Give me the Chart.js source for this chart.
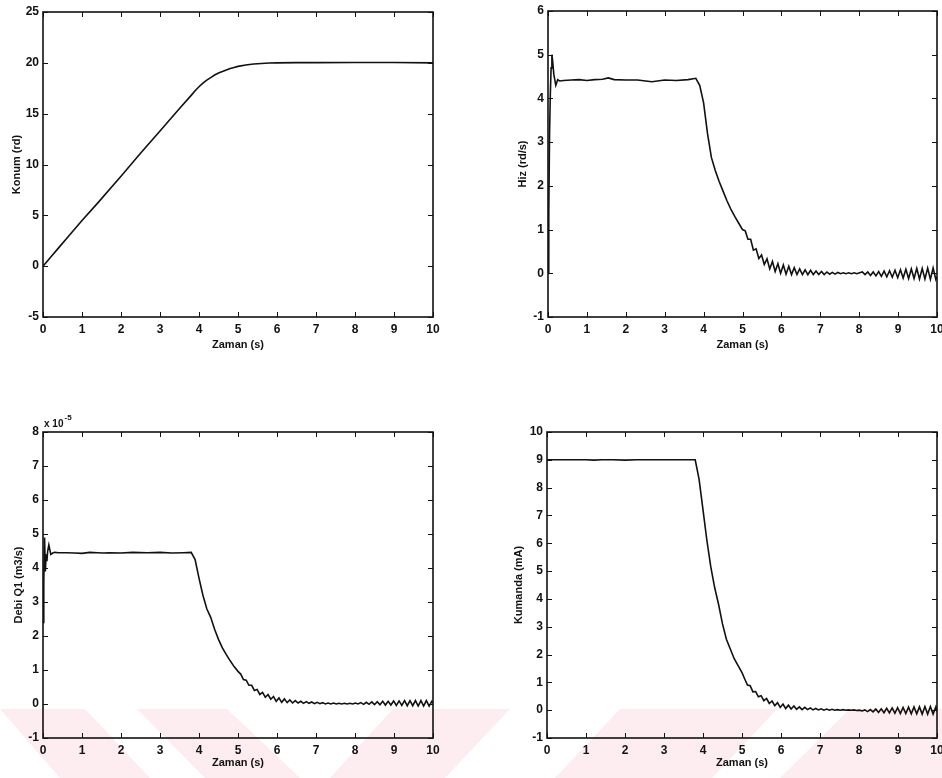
<!DOCTYPE html>
<html>
<head>
<meta charset="utf-8">
<script src="https://cdn.jsdelivr.net/npm/chart.js@4.4.1/dist/chart.umd.min.js"></script>
<style>
  html, body { margin: 0; padding: 0; background: #fff; }
  body { width: 942px; height: 778px; position: relative; overflow: hidden; }
  #filigran { position: absolute; left: 0; top: 0; z-index: 0; }
  .kutu { position: absolute; width: 471px; height: 389px; z-index: 1; }
</style>
</head>
<body>
<svg id="filigran" width="942" height="778">
  <g fill="#fdedf0">
    <polygon points="0,709 85,709 150,778 60,778"/>
    <polygon points="137,709 227,709 300,778 205,778"/>
    <polygon points="393,709 510,709 445,778 330,778"/>
    <polygon points="620,709 777,709 712,778 555,778"/>
    <polygon points="850,709 942,709 942,778 780,778"/>
  </g>
</svg>
<div class="kutu" style="left:0;top:0"><canvas id="konumGrafik" width="471" height="389"></canvas></div>
<div class="kutu" style="left:471px;top:0"><canvas id="hizGrafik" width="471" height="389"></canvas></div>
<div class="kutu" style="left:0;top:389px"><canvas id="debiGrafik" width="471" height="389"></canvas></div>
<div class="kutu" style="left:471px;top:389px"><canvas id="kumandaGrafik" width="471" height="389"></canvas></div>
<script>
// konum (rd), kendi zaman ekseniyle
const konumZaman = [0, 0.2, 0.4, 0.6, 1.0, 1.4, 2.0, 2.5, 3.0, 3.5, 3.8, 3.9, 4.0, 4.1, 4.2, 4.3, 4.4,
  4.5, 4.6, 4.7, 4.8, 4.9, 5.0, 5.2, 5.4, 5.6, 5.8, 6.0, 6.5, 7, 8, 9, 10];
const konum = [0, 0.9, 1.8, 2.7, 4.5, 6.2, 8.85, 11.1, 13.3, 15.5, 16.8, 17.25, 17.65, 18.0, 18.3, 18.55, 18.8,
  19.0, 19.15, 19.3, 19.45, 19.55, 19.65, 19.78, 19.88, 19.94, 19.98, 20.0, 20.02, 20.02, 20.03, 20.03, 20.0];

// hiz, debi ve kumanda icin ortak zaman (s)
const zaman = [
  0, 0.02, 0.04, 0.06, 0.08, 0.1, 0.12, 0.15, 0.2, 0.25, 0.3, 0.4,
  0.6, 0.8, 1.0, 1.2, 1.4, 1.55, 1.7, 2.0, 2.3, 2.67, 3.0, 3.3, 3.6, 3.8,
  3.9, 4.0, 4.1, 4.2, 4.3, 4.4, 4.5, 4.6, 4.7, 4.8, 4.9, 5.0,
  5.07, 5.14, 5.21, 5.28, 5.35, 5.42, 5.49, 5.56, 5.63, 5.70, 5.77, 5.84, 5.91, 5.98,
  6.05, 6.12, 6.19, 6.26, 6.33, 6.40, 6.47, 6.54, 6.61, 6.68, 6.75, 6.82, 6.89, 6.96,
  7.03, 7.10, 7.17, 7.24, 7.31, 7.38, 7.45, 7.52, 7.59, 7.66, 7.73, 7.80, 7.87, 7.94,
  8.01, 8.08, 8.15, 8.22, 8.29, 8.36, 8.43, 8.50, 8.57, 8.64, 8.71, 8.78, 8.85, 8.92,
  8.99, 9.06, 9.13, 9.20, 9.27, 9.34, 9.41, 9.48, 9.55, 9.62, 9.69, 9.76, 9.83, 9.90,
  9.97, 10.0
];

// hiz (rd/s)
const hiz = [
  0, 1.4, 3.2, 4.1, 4.7, 5.0, 4.85, 4.55, 4.3, 4.43, 4.4, 4.41,
  4.42, 4.43, 4.41, 4.43, 4.44, 4.47, 4.43, 4.42, 4.42, 4.38, 4.42, 4.41, 4.43, 4.46,
  4.3, 3.9, 3.2, 2.65, 2.35, 2.1, 1.88, 1.66, 1.47, 1.3, 1.15, 1.0,
  0.97, 0.78, 0.78, 0.53, 0.56, 0.34, 0.42, 0.2, 0.33, 0.1, 0.27, 0.04, 0.22, 0.0,
  0.19, -0.02, 0.16, -0.03, 0.13, -0.03, 0.1, -0.03, 0.08, -0.03, 0.07, -0.03, 0.05, -0.03,
  0.04, -0.03, 0.03, -0.02, 0.02, -0.02, 0.02, -0.01, 0.01, -0.01, 0.01, -0.01, 0.01, -0.01,
  0.01, 0.03, -0.03, 0.03, -0.05, 0.03, -0.06, 0.04, -0.07, 0.05, -0.08, 0.06, -0.09, 0.07,
  -0.1, 0.08, -0.11, 0.09, -0.12, 0.1, -0.12, 0.11, -0.13, 0.11, -0.13, 0.12, -0.14, 0.12,
  -0.14, -0.08
];

// debi Q1 (x 1e-5 m3/s)
const debiQ1 = [
  2.4, 3.6, 4.9, 3.9, 4.4, 4.2, 4.5, 4.68, 4.4, 4.44, 4.46, 4.45,
  4.45, 4.44, 4.43, 4.46, 4.45, 4.44, 4.45, 4.44, 4.46, 4.45, 4.46, 4.44, 4.45, 4.46,
  4.25, 3.7, 3.2, 2.8, 2.55, 2.2, 1.9, 1.65, 1.45, 1.27, 1.1, 0.96,
  0.88, 0.72, 0.7, 0.55, 0.55, 0.4, 0.43, 0.28, 0.34, 0.2, 0.28, 0.14, 0.22, 0.08,
  0.18, 0.05, 0.15, 0.04, 0.12, 0.03, 0.1, 0.03, 0.08, 0.02, 0.07, 0.02, 0.06, 0.01,
  0.05, 0.01, 0.04, 0.0, 0.03, 0.0, 0.03, 0.0, 0.02, 0.0, 0.02, 0.0, 0.02, 0.0,
  0.03, 0.0, 0.04, -0.01, 0.05, -0.01, 0.06, -0.02, 0.07, -0.02, 0.08, -0.03, 0.08, -0.03,
  0.09, -0.04, 0.09, -0.04, 0.1, -0.05, 0.1, -0.05, 0.1, -0.06, 0.1, -0.06, 0.1, -0.06,
  0.08, 0.02
];

// kumanda (mA)
const kumanda = [
  9.0, 9.0, 9.0, 9.0, 9.0, 9.0, 9.0, 9.0, 9.0, 9.0, 9.0, 9.0,
  9.0, 9.0, 9.0, 8.99, 9.0, 9.0, 9.0, 8.99, 9.0, 9.0, 9.0, 9.0, 9.0, 9.0,
  8.3, 7.2, 6.1, 5.15, 4.4, 3.8, 3.1, 2.55, 2.2, 1.85, 1.6, 1.35,
  1.12, 0.9, 0.88, 0.66, 0.67, 0.48, 0.52, 0.34, 0.42, 0.24, 0.33, 0.16, 0.27, 0.1,
  0.22, 0.06, 0.18, 0.04, 0.15, 0.03, 0.12, 0.02, 0.1, 0.02, 0.08, 0.01, 0.06, 0.01,
  0.05, 0.0, 0.04, 0.0, 0.03, 0.0, 0.02, 0.0, 0.02, 0.0, 0.01, 0.0, 0.01, -0.01,
  0.0, -0.03, 0.01, -0.05, 0.02, -0.06, 0.04, -0.08, 0.05, -0.09, 0.07, -0.1, 0.08, -0.11,
  0.09, -0.12, 0.1, -0.12, 0.11, -0.13, 0.12, -0.13, 0.12, -0.14, 0.13, -0.14, 0.13, -0.14,
  0.12, -0.05
];

// eksen araliklari [min, max, adim]
const zamanEkseni = [0, 10, 1];
const konumEkseni = [-5, 25, 5];
const hizEkseni = [-1, 6, 1];
const debiEkseni = [-1, 8, 1];
const kumandaEkseni = [-1, 10, 1];

var yazi = '"Liberation Sans", Arial, Helvetica, sans-serif';
var renk = '#111';

// matlab tarzi kutu ve iceri bakan tik cizgileri
var matlabEksen = {
  id: 'matlabEksen',
  afterDatasetsDraw: function (chart, args, opts) {
    var ctx = chart.ctx, a = chart.chartArea;
    var x = chart.scales.x, y = chart.scales.y;
    var L = 5;
    ctx.save();
    ctx.strokeStyle = renk;
    ctx.lineWidth = 1;
    ctx.beginPath();
    x.ticks.forEach(function (t) {
      var px = Math.round(x.getPixelForValue(t.value)) + 0.5;
      ctx.moveTo(px, a.bottom); ctx.lineTo(px, a.bottom - L);
      ctx.moveTo(px, a.top); ctx.lineTo(px, a.top + L);
    });
    y.ticks.forEach(function (t) {
      var py = Math.round(y.getPixelForValue(t.value)) + 0.5;
      ctx.moveTo(a.left, py); ctx.lineTo(a.left + L, py);
      ctx.moveTo(a.right, py); ctx.lineTo(a.right - L, py);
    });
    ctx.stroke();
    ctx.lineWidth = 1.6;
    ctx.strokeRect(a.left, a.top, a.right - a.left, a.bottom - a.top);
    if (opts.us) {
      ctx.fillStyle = renk;
      ctx.textBaseline = 'alphabetic';
      ctx.textAlign = 'left';
      ctx.font = 'bold 10px ' + yazi;
      ctx.fillText('x 10', a.left + 1, a.top - 5);
      var w = ctx.measureText('x 10').width;
      ctx.font = 'bold 8px ' + yazi;
      ctx.fillText(opts.us, a.left + 1 + w + 1, a.top - 12);
    }
    ctx.restore();
  }
};

function grafik(id, xs, ys, aralik, etiket, k, us) {
  var ctx = document.getElementById(id).getContext('2d');
  var noktalar = xs.map(function (t, i) { return { x: t, y: ys[i] }; });
  return new Chart(ctx, {
    type: 'line',
    data: {
      datasets: [{
        data: noktalar,
        borderColor: renk,
        borderWidth: 1.6,
        pointRadius: 0,
        tension: 0,
        fill: false
      }]
    },
    options: {
      responsive: false,
      animation: false,
      events: [],
      layout: { padding: { left: 0, right: k.sag, top: k.ust, bottom: 0 } },
      plugins: {
        legend: { display: false },
        tooltip: { enabled: false },
        matlabEksen: { us: us }
      },
      scales: {
        x: {
          type: 'linear',
          min: zamanEkseni[0], max: zamanEkseni[1],
          ticks: { stepSize: zamanEkseni[2], padding: 5, maxRotation: 0, autoSkip: false,
                   color: renk, font: { family: yazi, size: 12, weight: 'bold' } },
          grid: { display: false, drawTicks: false },
          border: { display: false },
          title: { display: true, text: 'Zaman (s)', color: renk,
                   font: { family: yazi, size: 11, weight: 'bold' },
                   padding: { top: 0, bottom: k.xBaslik } },
          afterFit: function (s) { s.height = k.xh; s.paddingLeft = 0; s.paddingRight = 0; }
        },
        y: {
          type: 'linear',
          min: aralik[0], max: aralik[1],
          ticks: { stepSize: aralik[2], padding: 4,
                   color: renk, font: { family: yazi, size: 12, weight: 'bold' } },
          grid: { display: false, drawTicks: false },
          border: { display: false },
          title: { display: true, text: etiket, color: renk,
                   font: { family: yazi, size: 11, weight: 'bold' },
                   padding: { top: k.yBaslik, bottom: 0 } },
          afterFit: function (s) { s.width = k.yw; s.paddingTop = 0; s.paddingBottom = 0; }
        }
      }
    },
    plugins: [matlabEksen]
  });
}

grafik('konumGrafik', konumZaman, konum, konumEkseni, 'Konum (rd)',
  { yw: 43, sag: 38, ust: 12, xh: 72, xBaslik: 37, yBaslik: 10 });
grafik('hizGrafik', zaman, hiz, hizEkseni, 'Hiz (rd/s)',
  { yw: 77, sag: 5, ust: 11, xh: 72, xBaslik: 37, yBaslik: 45 });
grafik('debiGrafik', zaman, debiQ1, debiEkseni, 'Debi Q1 (m3/s)',
  { yw: 43, sag: 38, ust: 43, xh: 40, xBaslik: 8, yBaslik: 12 }, '-5');
grafik('kumandaGrafik', zaman, kumanda, kumandaEkseni, 'Kumanda (mA)',
  { yw: 76, sag: 5, ust: 43, xh: 40, xBaslik: 8, yBaslik: 41 });
</script>
</body>
</html>
